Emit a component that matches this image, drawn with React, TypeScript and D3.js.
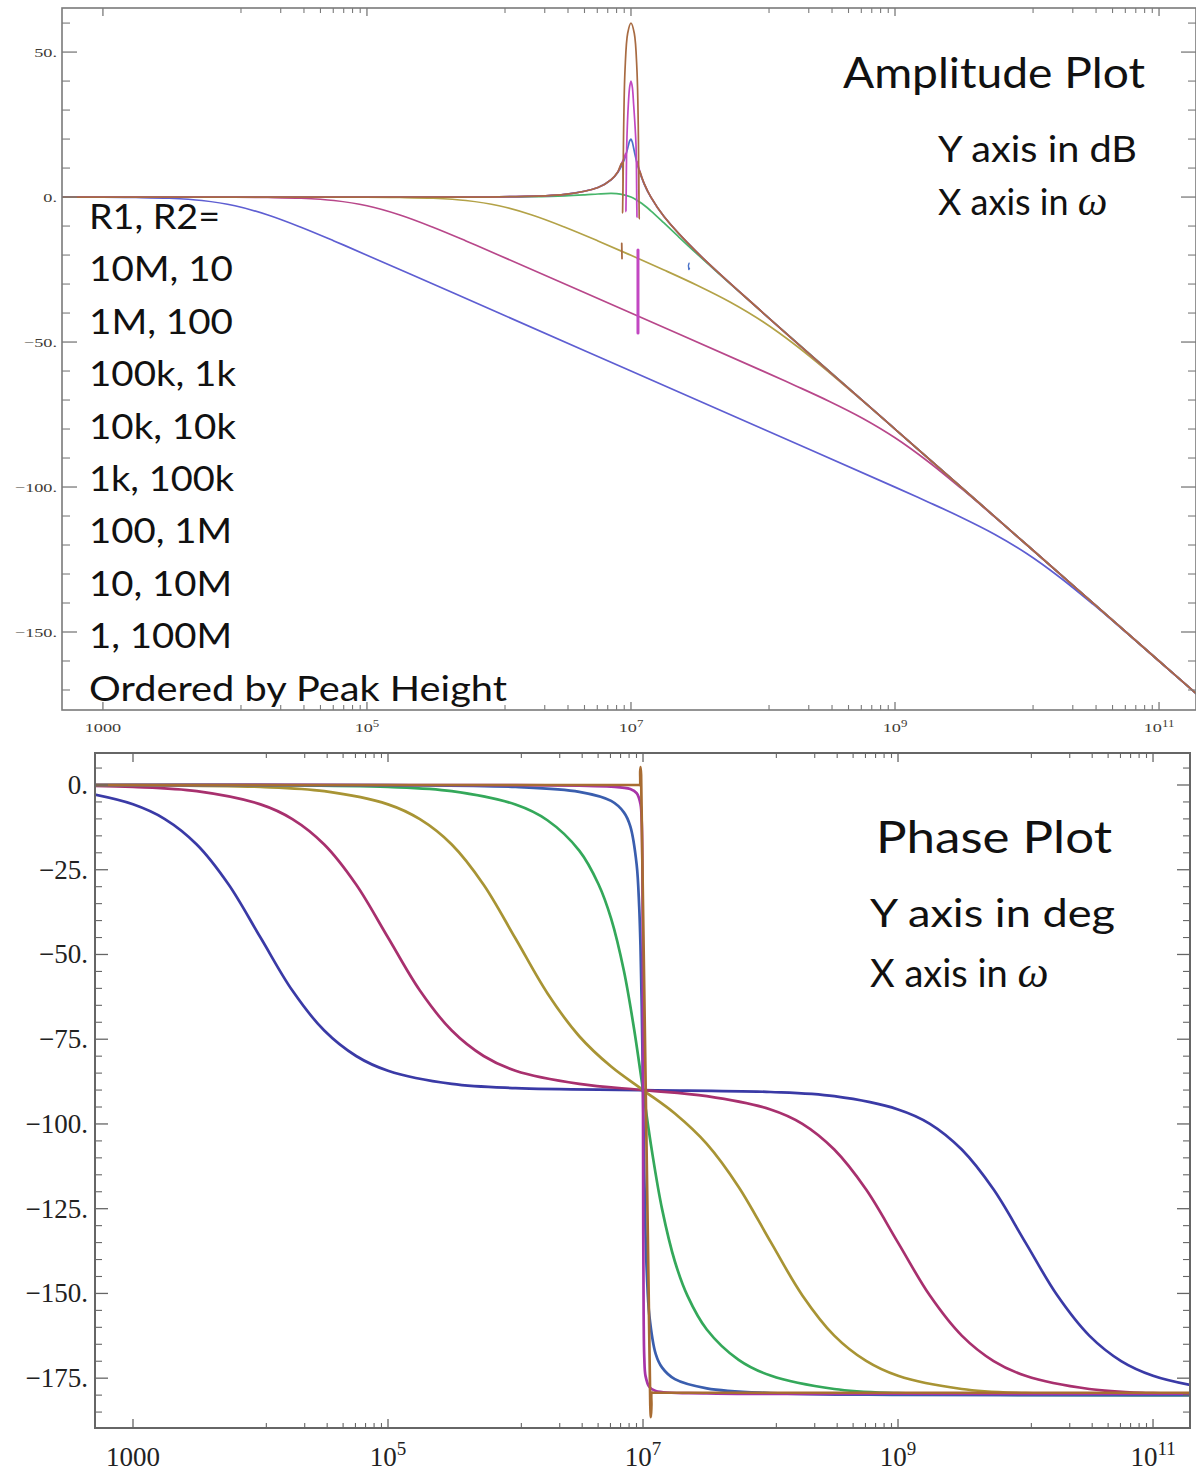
import React from "react";
import * as d3 from "d3";

type Pt = [number, number]; // [log10(ω), value]

// Legend: R1, R2 pairs, ordered by resonance peak height
const legendTitle = "R1, R2=";
const legendEntries = ["10M, 10", "1M, 100", "100k, 1k", "10k, 10k", "1k, 100k", "100, 1M", "10, 10M", "1, 100M"];
const legendFooter = "Ordered by Peak Height";

// ---------- Amplitude (dB) ----------
const ampA: Pt[] = [[2.69, 0], [3, -0.04], [3.25, -0.14], [3.5, -0.41], [3.75, -1.19], [4, -3.01], [4.25, -6.19], [4.5, -10.41], [4.75, -15.13], [5, -20.04], [5.5, -30], [6, -40], [7, -60], [8, -80], [9, -100.04], [9.25, -105.14], [9.5, -110.41], [9.75, -116.19], [10, -123.01], [10.25, -131.19], [10.5, -140.41], [10.75, -150.13], [11, -160.04], [11.28, -171.2]];
const ampB: Pt[] = [[2.69, 0], [4, -0.04], [4.25, -0.14], [4.5, -0.41], [4.75, -1.19], [5, -3.01], [5.25, -6.19], [5.5, -10.41], [5.75, -15.13], [6, -20.04], [7, -40], [8, -60.04], [8.25, -65.14], [8.5, -70.41], [8.75, -76.19], [9, -83.01], [9.25, -91.19], [9.5, -100.41], [9.75, -110.13], [10, -120.04], [11, -160], [11.28, -171.2]];
const ampC: Pt[] = [[2.69, 0], [5, -0.04], [5.25, -0.14], [5.5, -0.41], [5.75, -1.19], [6, -3.01], [6.25, -6.19], [6.5, -10.41], [6.75, -15.13], [7, -20.08], [7.25, -25.14], [7.5, -30.41], [7.75, -36.19], [8, -43.01], [8.25, -51.19], [8.5, -60.41], [8.75, -70.13], [9, -80.04], [10, -120], [11, -160], [11.28, -171.2]];
const ampD: Pt[] = [[2.69, 0], [5, 0], [5.5, 0.004], [6, 0.04], [6.25, 0.13], [6.5, 0.41], [6.65, 0.76], [6.75, 1.06], [6.85, 1.25], [6.92, 1.04], [7, 0], [7.08, -2.16], [7.15, -4.75], [7.25, -8.94], [7.35, -13.24], [7.5, -19.59], [7.75, -29.85], [8, -39.96], [9, -80], [10, -120], [11, -160], [11.28, -171.2]];
const ampE: Pt[] = [[2.69, 0], [5, 0], [6, 0.09], [6.5, 0.91], [6.75, 3.27], [6.85, 5.96], [6.9, 8.46], [6.95, 12.98], [6.97, 15.97], [6.98, 17.73], [6.99, 19.36], [7, 20], [7.01, 18.97], [7.02, 16.93], [7.03, 14.76], [7.05, 10.99], [7.1, 4.46], [7.15, -0.04], [7.25, -6.73], [7.5, -19.09], [8, -39.91], [9, -80], [10, -120], [11, -160], [11.28, -171.2]];
const ampF: Pt[] = [[2.69, 0], [5, 0], [6, 0.09], [6.5, 0.92], [6.75, 3.3], [6.85, 6.04], [6.9, 8.66], [6.93, 11.7], [6.95, 13.7], [6.96, 15.0], [6.962, -5.0], [6.968, 18], [6.98, 32], [6.99, 38], [7, 40], [7.01, 38], [7.02, 32], [7.038, 18], [7.045, -7.0], [7.048, 12.1], [7.06, 9.95], [7.08, 7.05], [7.1, 4.66], [7.15, 0.04], [7.25, -6.7], [7.5, -19.08], [8, -39.91], [9, -80], [10, -120], [11, -160], [11.28, -171.2]];
const ampG: Pt[] = [[2.69, 0], [5, 0], [6, 0.09], [6.5, 0.92], [6.75, 3.3], [6.85, 6.04], [6.9, 8.66], [6.93, 11.7], [6.937, -5.5], [6.945, 25], [6.955, 44], [6.975, 56.5], [7, 60], [7.025, 56.5], [7.045, 44], [7.055, 25], [7.062, -7.5], [7.066, 9.0], [7.08, 7.05], [7.1, 4.66], [7.15, 0.04], [7.25, -6.7], [7.5, -19.08], [8, -39.91], [9, -80], [10, -120], [11, -160], [11.28, -171.2]];
// stray sampling strokes near the resonance
const ampGlitchC: Pt[] = [[6.93, -16], [6.932, -21.2]];
const ampGlitchF: Pt[] = [[7.053, -18.3], [7.053, -46.9]];
const ampGlitchE: Pt[] = [[7.44, -22.8], [7.435, -23.6], [7.438, -25], [7.443, -24.6]];

// ---------- Phase (deg) ----------
const phA: Pt[] = [[2.7, -2.86], [3, -5.71], [3.25, -10.05], [3.5, -17.55], [3.75, -29.36], [4, -45], [4.25, -60.64], [4.5, -72.45], [4.75, -79.95], [5, -84.29], [5.5, -88.19], [6, -89.43], [7, -90], [8, -90.57], [8.5, -91.81], [9, -95.71], [9.25, -99.95], [9.5, -107.55], [9.75, -119.36], [10, -135], [10.25, -150.64], [10.5, -162.45], [10.75, -169.95], [11, -174.29], [11.29, -177.0]];
const phB: Pt[] = [[2.7, -0.29], [3, -0.57], [3.5, -1.81], [4, -5.71], [4.25, -10.05], [4.5, -17.55], [4.75, -29.36], [5, -45], [5.25, -60.64], [5.5, -72.45], [5.75, -79.95], [6, -84.29], [6.5, -88.19], [7, -90], [7.5, -91.81], [8, -95.71], [8.25, -99.95], [8.5, -107.55], [8.75, -119.36], [9, -135], [9.25, -150.64], [9.5, -162.45], [9.75, -169.95], [10, -174.29], [10.5, -178.19], [11, -179.43], [11.29, -179.7]];
const phC: Pt[] = [[2.7, -0.03], [3, -0.06], [4, -0.57], [4.5, -1.81], [5, -5.71], [5.25, -10.09], [5.5, -17.56], [5.75, -29.42], [6, -45.29], [6.25, -61.42], [6.5, -74.12], [6.75, -83.07], [7, -90], [7.25, -96.93], [7.5, -105.88], [7.75, -118.58], [8, -134.71], [8.25, -150.58], [8.5, -162.44], [8.75, -169.91], [9, -174.29], [9.5, -178.19], [10, -179.43], [11, -179.94], [11.29, -179.97]];
const phD: Pt[] = [[2.7, 0], [4, -0.06], [5, -0.57], [5.5, -1.81], [6, -5.77], [6.25, -10.4], [6.5, -19.36], [6.65, -29.2], [6.75, -39.42], [6.85, -54.8], [6.93, -72.0], [7, -90], [7.07, -108], [7.15, -125.2], [7.25, -140.58], [7.35, -150.8], [7.5, -160.64], [7.75, -169.6], [8, -174.23], [8.5, -178.19], [9, -179.43], [10, -179.94], [11.29, -180]];
const phE: Pt[] = [[2.7, 0], [5, -0.06], [6, -0.58], [6.5, -2.01], [6.75, -4.7], [6.85, -8.07], [6.9, -12.14], [6.95, -23.4], [6.97, -35.9], [6.98, -47.3], [6.99, -65.3], [7, -90], [7.01, -114.7], [7.02, -132.7], [7.03, -144.1], [7.05, -156.6], [7.1, -167.9], [7.15, -171.9], [7.25, -175.3], [7.5, -178.0], [8, -179.4], [9, -179.94], [11.29, -180]];
const phF: Pt[] = [[2.7, 0], [5, 0], [6, -0.06], [6.5, -0.2], [6.75, -0.47], [6.9, -1.2], [6.95, -2.4], [6.98, -5.6], [6.99, -11.1], [6.995, -23.5], [6.998, -47.4], [7, -90], [7.002, -132.6], [7.005, -156.5], [7.01, -168.9], [7.02, -174.4], [7.05, -177.6], [7.1, -178.8], [7.5, -179.5], [9, -179.6], [11.29, -179.6]];
const phG: Pt[] = [[2.7, 0], [4, 0], [5, 0], [6, 0], [6.5, 0], [6.8, 0], [6.9, 0], [6.95, 0], [6.97, 0], [6.975, 0], [6.978, 4], [6.981, 5.3], [6.985, 3], [7.057, -183], [7.062, -186.5], [7.066, -183], [7.069, -179.3], [7.08, -179.3], [7.1, -179.3], [7.2, -179.3], [7.5, -179.3], [8, -179.3], [9, -179.3], [10, -179.3], [11.29, -179.3]];

// Series colours (amplitude panel drawn lighter, phase panel heavier)
const ampColors = ["#5e5ed2", "#b8478a", "#b3a247", "#47b56a", "#4a72c9", "#c247c2", "#a86b42"];
const phColors = ["#3a3aa6", "#a8306e", "#a89434", "#34a85a", "#3a5eae", "#a834a8", "#a86c32"];

const ampSeries = [ampA, ampB, ampC, ampD, ampE, ampF, ampG];
const phSeries = [phA, phB, phC, phD, phE, phF, phG];

// Axes
const xMajor = [1e3, 1e5, 1e7, 1e9, 1e11];
const xMajorBase = ["1000", "10", "10", "10", "10"];
const xMajorExp = ["", "5", "7", "9", "11"];
const xMinorParents = [1e5, 1e7, 1e9, 1e11];
const xMinorSteps = [1, 2, 3, 4, 5, 6, 7, 8];

const ampMajor = [-150, -100, -50, 0, 50];
const ampMajorLabels = ["\u2212150.", "\u2212100.", "\u221250.", "0.", "50."];
const ampMinor = [-170, -160, -140, -130, -120, -110, -90, -80, -70, -60, -40, -30, -20, -10, 10, 20, 30, 40, 60];

const phMajor = [-175, -150, -125, -100, -75, -50, -25, 0];
const phMajorLabels = ["\u2212175.", "\u2212150.", "\u2212125.", "\u2212100.", "\u221275.", "\u221250.", "\u221225.", "0."];
const phMinor = d3.range(-185, 10, 5).filter((v) => v % 25 !== 0);

const SANS = "Lato, 'Open Sans', sans-serif";
const SERIF = "'Liberation Serif', 'DejaVu Serif', serif";

type PanelProps = {
  id: string;
  left: number; right: number; top: number; bottom: number;
  xDom: [number, number]; yDom: [number, number];
  series: Pt[][]; colors: string[]; lineWidth: number;
  yMajor: number[]; yLabels: string[]; yMinor: number[];
  frameColor: string; frameWidth: number;
  yTickMajor: number; yTickMinor: number; xTickMajor: number; xTickMinor: number;
  children?: (x: d3.ScaleLogarithmic<number, number>, y: d3.ScaleLinear<number, number>) => React.ReactNode;
  yLabel: (v: number, s: string, y: number, i: number) => React.ReactNode;
  xLabel: (base: string, exp: string, x: number, i: number) => React.ReactNode;
};

function Panel(p: PanelProps) {
  const x = d3.scaleLog().domain(p.xDom).range([p.left, p.right]);
  const y = d3.scaleLinear().domain(p.yDom).range([p.bottom, p.top]);
  const line = d3.line<Pt>().x((d) => x(Math.pow(10, d[0]))).y((d) => y(d[1])).curve(d3.curveCatmullRom.alpha(0.5));
  const minorX: number[] = [];
  xMinorParents.forEach((m) => xMinorSteps.forEach((k) => minorX.push((m * k) / 9)));
  const tc = p.frameColor;
  return (
    <g>
      <defs>
        <clipPath id={p.id}>
          <rect x={p.left} y={p.top} width={p.right - p.left} height={p.bottom - p.top} />
        </clipPath>
      </defs>
      <g clipPath={`url(#${p.id})`} fill="none" strokeLinejoin="round" strokeLinecap="round">
        {p.series.map((s, i) => (
          <path key={i} d={line(s) || ""} stroke={p.colors[i]} strokeWidth={p.lineWidth} />
        ))}
        {p.children && p.children(x, y)}
      </g>
      <rect x={p.left} y={p.top} width={p.right - p.left} height={p.bottom - p.top} fill="none" stroke={tc} strokeWidth={p.frameWidth} />
      {p.yMajor.map((v, i) => (
        <g key={"ym" + i} stroke={tc} strokeWidth={1.3}>
          <line x1={p.left} x2={p.left + p.yTickMajor} y1={y(v)} y2={y(v)} />
          <line x1={p.right} x2={p.right - p.yTickMajor} y1={y(v)} y2={y(v)} />
        </g>
      ))}
      {p.yMinor.map((v, i) => (
        <g key={"yn" + i} stroke={tc} strokeWidth={1.1}>
          <line x1={p.left} x2={p.left + p.yTickMinor} y1={y(v)} y2={y(v)} />
          <line x1={p.right} x2={p.right - p.yTickMinor} y1={y(v)} y2={y(v)} />
        </g>
      ))}
      {xMajor.map((v, i) => (
        <g key={"xm" + i} stroke={tc} strokeWidth={1.3}>
          <line x1={x(v)} x2={x(v)} y1={p.bottom} y2={p.bottom - p.xTickMajor} />
          <line x1={x(v)} x2={x(v)} y1={p.top} y2={p.top + p.xTickMajor} />
        </g>
      ))}
      {minorX.map((v, i) => (
        <g key={"xn" + i} stroke={tc} strokeWidth={1.1}>
          <line x1={x(v)} x2={x(v)} y1={p.bottom} y2={p.bottom - p.xTickMinor} />
          <line x1={x(v)} x2={x(v)} y1={p.top} y2={p.top + p.xTickMinor} />
        </g>
      ))}
      {p.yMajor.map((v, i) => p.yLabel(v, p.yLabels[i], y(v), i))}
      {xMajor.map((v, i) => p.xLabel(xMajorBase[i], xMajorExp[i], x(v), i))}
    </g>
  );
}

export default function App() {
  const legendX = 89;
  const legendBase = 229;
  const legendStep = 52.4;
  const legendWidths = [144, 144, 147, 147, 145, 143, 143, 143];
  const tickInk = "#3f3c36";
  return (
    <svg width={1196} height={1475} viewBox="0 0 1196 1475" style={{ position: "absolute", left: 0, top: 0, background: "#fff" }}>
      <rect x={0} y={0} width={1196} height={1475} fill="#fff" />
      {/* Amplitude panel */}
      <Panel
        id="clipAmp"
        left={62} right={1196} top={8} bottom={710}
        xDom={[Math.pow(10, 2.69), Math.pow(10, 11.28)]} yDom={[-176.9, 65.2]}
        series={ampSeries} colors={ampColors} lineWidth={1.7}
        yMajor={ampMajor} yLabels={ampMajorLabels} yMinor={ampMinor}
        frameColor="#7a7a7a" frameWidth={1.6}
        yTickMajor={15} yTickMinor={8} xTickMajor={8} xTickMinor={5}
        yLabel={(v, s, yy, i) => (
          <text key={"yl" + i} transform={`translate(57,${yy + 4.5}) scale(1.35,1)`} textAnchor="end" fontFamily={SERIF} fontSize={13.5} fill={tickInk}>{s}</text>
        )}
        xLabel={(b, e, xx, i) => (
          <text key={"xl" + i} transform={`translate(${xx},${732}) scale(1.35,1)`} textAnchor="middle" fontFamily={SERIF} fontSize={13.5} fill={tickInk}>
            {b}
            {e && <tspan dy={-5} fontSize={9.5}>{e}</tspan>}
          </text>
        )}
      >
        {(x, y) => {
          const l = d3.line<Pt>().x((d) => x(Math.pow(10, d[0]))).y((d) => y(d[1]));
          return (
            <g>
              <path d={l(ampGlitchC) || ""} stroke={ampColors[6]} strokeWidth={1.8} />
              <path d={l(ampGlitchF) || ""} stroke={ampColors[5]} strokeWidth={3} />
              <path d={l(ampGlitchE) || ""} stroke={ampColors[4]} strokeWidth={1.4} />
            </g>
          );
        }}
      </Panel>

      {/* Phase panel */}
      <Panel
        id="clipPh"
        left={95} right={1190} top={753} bottom={1428}
        xDom={[Math.pow(10, 2.702), Math.pow(10, 11.29)]} yDom={[-189.7, 9.44]}
        series={phSeries} colors={phColors} lineWidth={2.7}
        yMajor={phMajor} yLabels={phMajorLabels} yMinor={phMinor}
        frameColor="#666" frameWidth={2}
        yTickMajor={13} yTickMinor={7} xTickMajor={9} xTickMinor={5}
        yLabel={(v, s, yy, i) => (
          <text key={"pyl" + i} x={88} y={yy + 9} textAnchor="end" fontFamily={SERIF} fontSize={27} fill="#222">{s}</text>
        )}
        xLabel={(b, e, xx, i) => (
          <text key={"pxl" + i} x={xx} y={1466} textAnchor="middle" fontFamily={SERIF} fontSize={27} fill="#222">
            {b}
            {e && <tspan dy={-11} fontSize={19}>{e}</tspan>}
          </text>
        )}
      />

      {/* Legend */}
      <g fontFamily={SANS} fill="#111" fontSize={35}>
        <text x={legendX} y={legendBase} textLength={131} lengthAdjust="spacingAndGlyphs">{legendTitle}</text>
        {legendEntries.map((t, i) => (
          <text key={t} x={legendX} y={legendBase + (i + 1) * legendStep} textLength={legendWidths[i]} lengthAdjust="spacingAndGlyphs">{t}</text>
        ))}
        <text x={legendX} y={legendBase + 9 * legendStep} textLength={418} lengthAdjust="spacingAndGlyphs">{legendFooter}</text>
      </g>

      {/* Panel captions */}
      <g fontFamily={SANS} fill="#111">
        <text x={843} y={88} fontSize={42} textLength={302} lengthAdjust="spacingAndGlyphs">Amplitude Plot</text>
        <text x={938} y={162} fontSize={36} textLength={199} lengthAdjust="spacingAndGlyphs">Y axis in dB</text>
        <text x={938} y={215} fontSize={36}>
          X axis in <tspan fontFamily={SERIF} fontStyle="italic" fontSize={42}>ω</tspan>
        </text>
        <text x={876} y={853} fontSize={44} textLength={236} lengthAdjust="spacingAndGlyphs">Phase Plot</text>
        <text x={870} y={927} fontSize={38} textLength={245} lengthAdjust="spacingAndGlyphs">Y axis in deg</text>
        <text x={870} y={987} fontSize={38}>
          X axis in <tspan fontFamily={SERIF} fontStyle="italic" fontSize={44}>ω</tspan>
        </text>
      </g>
    </svg>
  );
}
